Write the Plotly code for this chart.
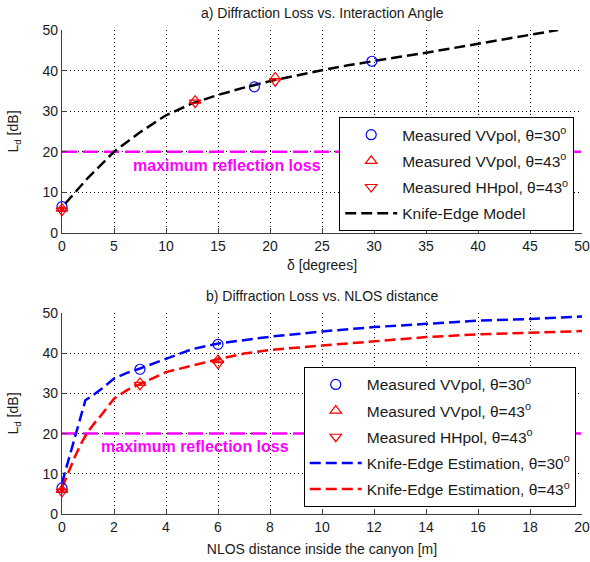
import plotly.graph_objects as go

# ---------------- data ----------------
# (a) Diffraction loss vs. interaction angle
a_vv30_x = [0, 18.5, 29.8]
a_vv30_y = [6.5, 36.0, 42.3]
a_vv43_x = [0, 12.8, 20.5]
a_vv43_y = [6.0, 32.6, 38.3]
a_hh43_x = [0, 12.8, 20.5]
a_hh43_y = [5.5, 32.1, 37.4]
a_ke_x = [0.3, 2.5, 5, 7.5, 10, 12.5, 15, 17.5, 20, 22.5, 25, 27.5, 30, 32.5, 35, 37.5, 40, 42.5, 45, 47.7]
a_ke_y = [7.2, 13.6, 20.0, 24.8, 29.0, 31.9, 34.0, 35.8, 37.4, 38.8, 40.1, 41.3, 42.4, 43.4, 44.4, 45.5, 46.6, 47.7, 48.8, 50.0]

# (b) Diffraction loss vs. NLOS distance
b_vv30_x = [0, 3, 6]
b_vv30_y = [6.5, 36.0, 42.2]
b_vv43_x = [0, 3, 6]
b_vv43_y = [6.0, 32.6, 38.3]
b_hh43_x = [0, 3, 6]
b_hh43_y = [5.5, 32.1, 37.4]
b_ke30_x = [0, 0.25, 0.5, 0.75, 0.9, 1.2, 1.5, 2, 2.5, 3, 4, 5, 6, 7, 8, 10, 12, 14, 16, 18, 20]
b_ke30_y = [7.7, 13.5, 19.5, 25.0, 28.3, 29.6, 31.0, 33.7, 35.1, 36.2, 38.6, 41.0, 42.4, 43.3, 44.1, 45.4, 46.5, 47.3, 48.1, 48.5, 49.1]
b_ke43_x = [0, 0.25, 0.5, 0.75, 1, 1.25, 1.5, 2, 2.5, 3, 4, 5, 6, 7, 8, 10, 12, 14, 16, 18, 20]
b_ke43_y = [6.5, 10.5, 14.3, 17.7, 20.5, 22.6, 24.5, 28.7, 30.8, 32.3, 35.3, 36.9, 38.5, 39.9, 40.8, 41.9, 43.0, 44.0, 44.7, 45.1, 45.5]

origin_x = [0]
origin_y = [6.0]

max_refl_loss = 20
a_xlim = [0, 50]
b_xlim = [0, 20]
ylim = [0, 50]

a_xticks = list(range(0, 51, 5))
b_xticks = list(range(0, 21, 2))
yticks = list(range(0, 51, 10))

FONT = "Liberation Sans, Arial, Helvetica, sans-serif"
BLUE = "#0000ff"
RED = "#ff0000"
MAG = "#ff00ff"
AX = "#404040"
TXT = "#1a1a1a"

fig = go.Figure()

def markers(x, y, name, symbol, color, xa, ya, legend, rank):
    fig.add_trace(go.Scatter(
        x=x, y=y, mode="markers", name=name, legendrank=rank, legendgroup=f"{legend}{rank}",
        marker=dict(symbol=symbol, size=10, color=color, line=dict(color=color, width=1.2)),
        xaxis=xa, yaxis=ya, legend=legend, cliponaxis=False))

def refline(xlim, xa, ya):
    fig.add_trace(go.Scatter(
        x=xlim, y=[max_refl_loss, max_refl_loss], mode="lines", showlegend=False,
        line=dict(color=MAG, width=2.5, dash="15px,6px"), xaxis=xa, yaxis=ya))

# ---- top panel ----
refline(a_xlim, "x", "y")
fig.add_trace(go.Scatter(x=a_ke_x, y=a_ke_y, mode="lines", name="Knife-Edge Model",
                         legendrank=4, legendgroup="legend4",
                         line=dict(color="black", width=2.5, dash="11px,5px"),
                         xaxis="x", yaxis="y", legend="legend"))
markers(a_vv30_x, a_vv30_y, "Measured VVpol, θ=30<sup>o</sup>", "circle-open", BLUE, "x", "y", "legend", 1)
markers(a_vv43_x, a_vv43_y, "Measured VVpol, θ=43<sup>o</sup>", "triangle-up-open", RED, "x", "y", "legend", 2)
markers(a_hh43_x, a_hh43_y, "Measured HHpol, θ=43<sup>o</sup>", "triangle-down-open", RED, "x", "y", "legend", 3)
fig.add_trace(go.Scatter(x=origin_x, y=origin_y, mode="markers", showlegend=False,
                         marker=dict(size=5, color=RED), xaxis="x", yaxis="y", cliponaxis=False))

# ---- bottom panel ----
refline(b_xlim, "x2", "y2")
fig.add_trace(go.Scatter(x=b_ke30_x, y=b_ke30_y, mode="lines", name="Knife-Edge Estimation, θ=30<sup>o</sup>",
                         legendrank=4, legendgroup="legend24",
                         line=dict(color=BLUE, width=2.5, dash="11px,5px"),
                         xaxis="x2", yaxis="y2", legend="legend2"))
fig.add_trace(go.Scatter(x=b_ke43_x, y=b_ke43_y, mode="lines", name="Knife-Edge Estimation, θ=43<sup>o</sup>",
                         legendrank=5, legendgroup="legend25",
                         line=dict(color=RED, width=2.5, dash="11px,5px"),
                         xaxis="x2", yaxis="y2", legend="legend2"))
markers(b_vv30_x, b_vv30_y, "Measured VVpol, θ=30<sup>o</sup>", "circle-open", BLUE, "x2", "y2", "legend2", 1)
markers(b_vv43_x, b_vv43_y, "Measured VVpol, θ=43<sup>o</sup>", "triangle-up-open", RED, "x2", "y2", "legend2", 2)
markers(b_hh43_x, b_hh43_y, "Measured HHpol, θ=43<sup>o</sup>", "triangle-down-open", RED, "x2", "y2", "legend2", 3)
fig.add_trace(go.Scatter(x=origin_x, y=origin_y, mode="markers", showlegend=False,
                         marker=dict(size=5, color=RED), xaxis="x2", yaxis="y2", cliponaxis=False))

axis_common = dict(
    showline=True, linecolor=AX, linewidth=1.3, mirror=False,
    ticks="inside", ticklen=5, tickcolor=AX, tickwidth=1,
    showgrid=True, gridcolor="black", gridwidth=1, griddash="1px,3px",
    zeroline=False, tickfont=dict(family=FONT, size=14, color=TXT),
    automargin=False,
)

legend_common = dict(
    xanchor="right", yanchor="top",
    bgcolor="white", bordercolor="black", borderwidth=1,
    font=dict(family=FONT, size=15.5, color=TXT), itemwidth=52,
    traceorder="grouped", tracegroupgap=3,
)

fig.update_layout(
    width=590, height=562,
    margin=dict(l=62, r=8, t=30, b=48),
    paper_bgcolor="white", plot_bgcolor="white",
    font=dict(family=FONT, size=13, color=TXT),
    xaxis=dict(axis_common, domain=[0, 1], range=a_xlim, tickvals=a_xticks, anchor="y",
               title=dict(text="δ [degrees]", standoff=7, font=dict(size=14))),
    yaxis=dict(axis_common, domain=[0.5806, 1], range=ylim, tickvals=yticks, anchor="x",
               title=dict(text="L<sub>d</sub> [dB]", standoff=20, font=dict(size=14))),
    xaxis2=dict(axis_common, domain=[0, 1], range=b_xlim, tickvals=b_xticks, anchor="y2",
                title=dict(text="NLOS distance inside the canyon [m]", standoff=10, font=dict(size=14))),
    yaxis2=dict(axis_common, domain=[0, 0.4153], range=ylim, tickvals=yticks, anchor="x2",
                title=dict(text="L<sub>d</sub> [dB]", standoff=20, font=dict(size=14))),
    legend=dict(legend_common, x=0.985, y=0.82),
    legend2=dict(legend_common, x=0.988, y=0.304),
    annotations=[
        dict(text="a) Diffraction Loss vs. Interaction Angle", xref="paper", yref="paper",
             x=0.5, y=1, xanchor="center", yanchor="bottom", yshift=7, showarrow=False,
             font=dict(family=FONT, size=14, color=TXT)),
        dict(text="b) Diffraction Loss vs. NLOS distance", xref="paper", yref="paper",
             x=0.5, y=0.4153, xanchor="center", yanchor="bottom", yshift=7, showarrow=False,
             font=dict(family=FONT, size=14, color=TXT)),
        dict(text="<b>maximum reflection loss</b>", xref="x", yref="y", x=15.9, y=16.6,
             showarrow=False, font=dict(family=FONT, size=16, color=MAG)),
        dict(text="<b>maximum reflection loss</b>", xref="x2", yref="y2", x=5.1, y=16.7,
             showarrow=False, font=dict(family=FONT, size=16, color=MAG)),
    ],
)

fig.write_html("out.html", config={"displayModeBar": False},
               post_script="document.body.style.margin='0px';")
